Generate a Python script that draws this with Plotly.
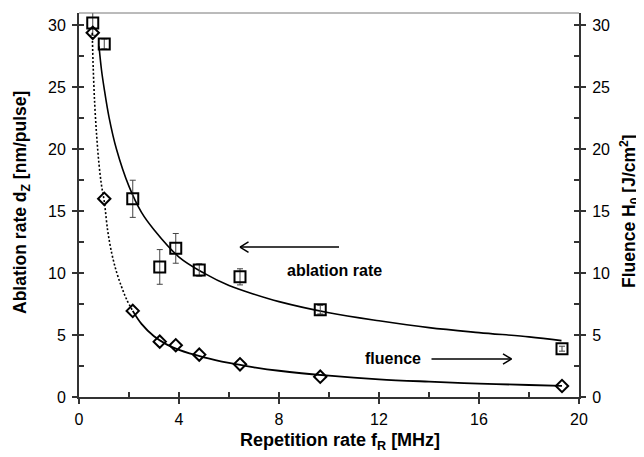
import plotly.graph_objects as go

rep_rate = [0.55, 1.01, 2.15, 3.23, 3.87, 4.81, 6.44, 9.65, 19.32]
ablation = [30.2, 28.5, 16.0, 10.5, 12.0, 10.25, 9.7, 7.05, 3.9]
ablation_err = [1.0, 0.4, 1.5, 1.4, 1.2, 0.5, 0.65, 0.35, 0.2]
fluence = [29.4, 16.0, 6.95, 4.47, 4.18, 3.42, 2.64, 1.64, 0.89]

# fit curves
abl_fit_x = [0.8, 0.9, 1.0, 1.2, 1.5, 2.0, 2.5, 3.0, 4.0, 5.0, 6.0, 7.0, 8.0, 10, 12, 14, 16, 18, 19.3]
abl_fit_y = [28.3, 26.4, 25.0, 22.6, 20.0, 17.0, 14.9, 13.5, 11.3, 10.0, 9.0, 8.3, 7.7, 6.8, 6.15, 5.6, 5.2, 4.85, 4.55]
flu_dot_x = [0.53, 0.57, 0.63, 0.71, 0.8, 0.9, 1.01, 1.15, 1.31, 1.5, 1.71, 1.9, 2.15]
flu_dot_y = [29.4, 26.5, 23.6, 21.0, 18.8, 17.1, 15.8, 13.4, 11.6, 10.1, 8.85, 7.9, 6.95]
flu_fit_x = [2.15, 2.5, 3.0, 3.5, 4.0, 5.0, 6.0, 7.0, 8.0, 10, 12, 14, 16, 18, 19.32]
flu_fit_y = [6.95, 5.9, 4.9, 4.25, 3.8, 3.2, 2.75, 2.4, 2.12, 1.72, 1.43, 1.24, 1.08, 0.97, 0.9]

black = "#000000"
axc = "#333333"
font = "Liberation Sans, Arial, sans-serif"

fig = go.Figure()

fig.add_trace(go.Scatter(x=abl_fit_x, y=abl_fit_y, mode="lines", line=dict(color=black, width=1.6, shape="spline"),
                         hoverinfo="skip", showlegend=False))
fig.add_trace(go.Scatter(x=flu_dot_x, y=flu_dot_y, mode="lines", yaxis="y2",
                         line=dict(color=black, width=1.6, dash="2px,2px", shape="spline"), showlegend=False))
fig.add_trace(go.Scatter(x=flu_fit_x, y=flu_fit_y, mode="lines", yaxis="y2",
                         line=dict(color=black, width=1.8, shape="spline"), showlegend=False))
fig.add_trace(go.Scatter(x=rep_rate, y=ablation, mode="markers", name="ablation rate",
                         marker=dict(symbol="square-open", size=11, color=black, line=dict(width=2, color=black)),
                         error_y=dict(type="data", array=ablation_err, color="#444444", thickness=1, width=3),
                         showlegend=False))
fig.add_trace(go.Scatter(x=rep_rate, y=fluence, mode="markers", name="fluence", yaxis="y2",
                         marker=dict(symbol="diamond-open", size=9.5, color=black, line=dict(width=2, color=black)),
                         showlegend=False))
# empty traces to activate tick-overlay axes
fig.add_trace(go.Scatter(x=[None], y=[None], xaxis="x3", yaxis="y3", showlegend=False, hoverinfo="skip"))
fig.add_trace(go.Scatter(x=[None], y=[None], xaxis="x", yaxis="y4", showlegend=False, hoverinfo="skip"))

common = dict(showgrid=False, zeroline=False, tickcolor=axc, tickwidth=1.5,
              tickfont=dict(family=font, size=16, color=black))
# page body has an 8px margin; the figure is sized/offset to compensate
fig.update_layout(
    width=636, height=449,
    margin=dict(l=71, r=65, t=5, b=60),
    paper_bgcolor="white", plot_bgcolor="white",
    font=dict(family=font, color=black),
    xaxis=dict(range=[0, 20], dtick=4, ticks="outside", ticklen=5, showline=True, linecolor=axc, linewidth=2,
               ticklabelstandoff=2, **common),
    xaxis3=dict(range=[0, 20], dtick=2, ticks="inside", ticklen=5, overlaying="x", anchor="y3",
                showticklabels=False, showline=False, **common),
    yaxis=dict(range=[0, 31], dtick=5, ticks="outside", ticklen=5, showline=True, linecolor=axc, linewidth=2,
               ticklabelstandoff=3, **common),
    yaxis2=dict(range=[0, 31], dtick=5, ticks="outside", ticklen=5, overlaying="y", side="right", anchor="x",
                showline=True, linecolor=axc, linewidth=2, ticklabelstandoff=3, **common),
    yaxis3=dict(range=[0, 31], dtick=2.5, ticks="inside", ticklen=5, overlaying="y", side="left", anchor="x3",
                showticklabels=False, showline=False, **common),
    yaxis4=dict(range=[0, 31], dtick=2.5, ticks="inside", ticklen=5, overlaying="y", side="right", anchor="x",
                showticklabels=False, showline=False, **common),
)

# top border
fig.add_shape(type="line", xref="paper", yref="paper", x0=0, x1=1, y0=1, y1=1,
              line=dict(color="#777777", width=1))

# arrows (open heads)
def arrow(x0, x1, y, hx, hy):
    fig.add_shape(type="line", x0=x0, x1=x1, y0=y, y1=y, line=dict(color=black, width=1.5))
    d = 1 if x1 > x0 else -1
    fig.add_shape(type="line", x0=x1 - d * hx, x1=x1, y0=y + hy, y1=y, line=dict(color=black, width=1.5))
    fig.add_shape(type="line", x0=x1 - d * hx, x1=x1, y0=y - hy, y1=y, line=dict(color=black, width=1.5))

arrow(10.4, 6.44, 12.1, 0.34, 0.42)
arrow(14.1, 17.3, 3.07, 0.34, 0.42)

fig.add_annotation(x=10.23, y=10.2, text="<b>ablation rate</b>", showarrow=False,
                   font=dict(family=font, size=16, color=black))
fig.add_annotation(x=12.57, y=3.07, text="<b>fluence</b>", showarrow=False,
                   font=dict(family=font, size=16, color=black))

# axis titles (positions given in screen pixels relative to plot area 79..579 x 13..397)
fig.add_annotation(xref="paper", yref="paper", x=(340 - 79) / 500, y=(397 - 441) / 384,
                   xanchor="center", yanchor="middle",
                   text="<b>Repetition rate f<sub>R</sub> [MHz]</b>", showarrow=False,
                   font=dict(family=font, size=18, color=black))
fig.add_annotation(xref="paper", yref="paper", x=(21 - 79) / 500, y=(397 - 203) / 384,
                   xanchor="center", yanchor="middle",
                   text="<b>Ablation rate d<sub>Z</sub> [nm/pulse]</b>", showarrow=False, textangle=-90,
                   font=dict(family=font, size=17.5, color=black))
fig.add_annotation(xref="paper", yref="paper", x=(629 - 79) / 500, y=(397 - 211) / 384,
                   xanchor="center", yanchor="middle",
                   text="<b>Fluence H<sub>0</sub> [J/cm<sup>2</sup>]</b>", showarrow=False, textangle=-90,
                   font=dict(family=font, size=17.5, color=black))

fig.write_html("out.html")
